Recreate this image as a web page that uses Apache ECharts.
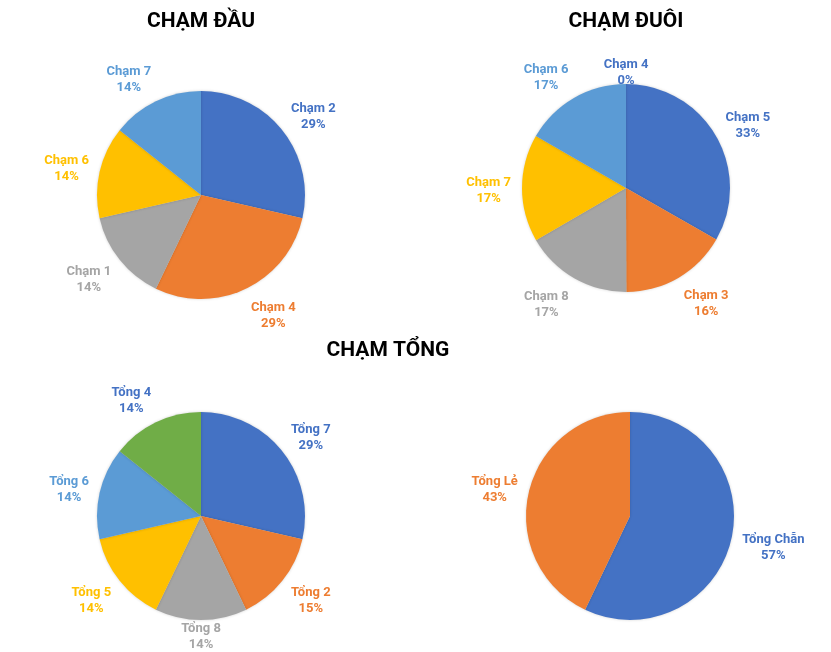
<!DOCTYPE html>
<html>
<head>
<meta charset="utf-8">
<script src="https://cdn.jsdelivr.net/npm/echarts@6/dist/echarts.min.js"></script>
<style>
html,body{margin:0;padding:0;background:#fff;}
#chart{width:831px;height:652px;}
</style>
</head>
<body>
<div id="chart"></div>
<script>
// ---- data ----
const titles = ["CHẠM ĐẦU", "CHẠM ĐUÔI", "CHẠM TỔNG"];

const dauNames = ["Chạm 2", "Chạm 4", "Chạm 1", "Chạm 6", "Chạm 7"];
const dauValues = [28.6, 28.6, 14.3, 14.3, 14.3];
const dauPct = ["29%", "29%", "14%", "14%", "14%"];

const duoiNames = ["Chạm 5", "Chạm 3", "Chạm 8", "Chạm 7", "Chạm 6", "Chạm 4"];
const duoiValues = [33.3, 16.7, 16.7, 16.7, 16.7, 0];
const duoiPct = ["33%", "16%", "17%", "17%", "17%", "0%"];

const tongNames = ["Tổng 7", "Tổng 2", "Tổng 8", "Tổng 5", "Tổng 6", "Tổng 4"];
const tongValues = [28.6, 14.3, 14.3, 14.3, 14.3, 14.3];
const tongPct = ["29%", "15%", "14%", "14%", "14%", "14%"];

const chanLeNames = ["Tổng Chẵn", "Tổng Lẻ"];
const chanLeValues = [57.1, 42.9];
const chanLePct = ["57%", "43%"];

// ---- styles ----
const BLUE = "#4472C4", ORANGE = "#ED7D31", GRAY = "#A5A5A5", YELLOW = "#FFC000", LBLUE = "#5B9BD5", GREEN = "#70AD47";
const sliceColors = [
  [BLUE, ORANGE, GRAY, YELLOW, LBLUE],
  [BLUE, ORANGE, GRAY, YELLOW, LBLUE, GREEN],
  [BLUE, ORANGE, GRAY, YELLOW, LBLUE, GREEN],
  [BLUE, ORANGE]
];
const labelColors = [
  [BLUE, ORANGE, GRAY, YELLOW, LBLUE],
  [BLUE, ORANGE, GRAY, YELLOW, LBLUE, BLUE],
  [BLUE, ORANGE, GRAY, YELLOW, LBLUE, BLUE],
  [BLUE, ORANGE]
];
const centers = [[201, 195], [626, 188], [201, 516], [630, 516]];
const RADIUS = 104;

const allNames = [dauNames, duoiNames, tongNames, chanLeNames];
const allValues = [dauValues, duoiValues, tongValues, chanLeValues];
const allPct = [dauPct, duoiPct, tongPct, chanLePct];

function makeLayout(si) {
  return function (params) {
    const vals = allValues[si];
    const total = vals.reduce((a, b) => a + b, 0);
    let cum = 0;
    for (let i = 0; i < params.dataIndex; i++) cum += vals[i];
    const mid = (cum + vals[params.dataIndex] / 2) / total * Math.PI * 2;
    const ux = Math.sin(mid), uy = -Math.cos(mid);
    const W = params.labelRect.width, H = params.labelRect.height;
    const t = Math.max(0, (Math.abs(uy) - 0.95) / 0.05);
    const Rg = RADIUS + 11 - 13 * t;
    const s = Math.max(-1, Math.min(1, ux / 0.2));
    return {
      x: centers[si][0] + Rg * ux + s * W / 2,
      y: centers[si][1] + Rg * uy + uy * H / 2 + 3,
      align: 'center',
      verticalAlign: 'middle'
    };
  };
}

const series = allValues.map((vals, si) => ({
  type: 'pie',
  center: centers[si],
  radius: RADIUS,
  startAngle: 90,
  clockwise: true,
  avoidLabelOverlap: false,
  animation: false,
  silent: true,
  itemStyle: { borderWidth: 0, shadowBlur: 3, shadowColor: 'rgba(0,0,0,0.18)' },
  labelLine: { show: false },
  labelLayout: makeLayout(si),
  data: vals.map((v, i) => ({
    name: allNames[si][i],
    value: v,
    itemStyle: { color: sliceColors[si][i] },
    label: {
      show: true,
      position: 'outside',
      formatter: allNames[si][i] + '\n' + allPct[si][i],
      color: labelColors[si][i],
      fontFamily: 'Roboto',
      fontWeight: 'bold',
      fontSize: 13,
      lineHeight: 16,
      align: 'center'
    }
  }))
}));

const titleStyle = { fontFamily: 'Roboto', fontWeight: 'bold', fontSize: 21, color: '#000' };
const option = {
  backgroundColor: '#fff',
  title: [
    { text: titles[0], left: 201, top: 11, padding: 0, textAlign: 'center', textStyle: titleStyle },
    { text: titles[1], left: 626, top: 11, padding: 0, textAlign: 'center', textStyle: titleStyle },
    { text: titles[2], left: 388, top: 340, padding: 0, textAlign: 'center', textStyle: titleStyle }
  ],
  series: series
};

const chart = echarts.init(document.getElementById('chart'), null, { renderer: 'canvas' });
chart.setOption(option);
</script>
</body>
</html>
